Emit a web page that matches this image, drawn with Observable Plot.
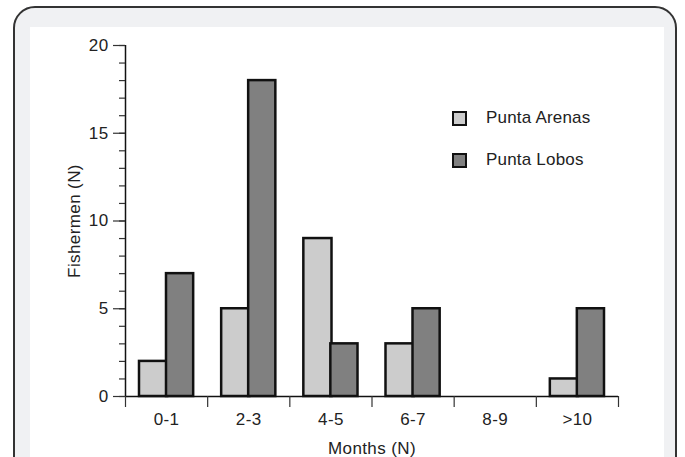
<!DOCTYPE html>
<html>
<head>
<meta charset="utf-8">
<script src="https://cdn.jsdelivr.net/npm/d3@7"></script>
<script src="https://cdn.jsdelivr.net/npm/@observablehq/plot@0.6"></script>
<style>
  html, body { margin: 0; padding: 0; background: #fff; width: 685px; height: 457px; overflow: hidden; font-family: "Liberation Sans", Arial, sans-serif; }
  #frame { position: absolute; left: 13px; top: 6px; width: 660px; height: 480px; border: 2px solid #333; border-radius: 22px; background: #f0f1f3; }
  #panel { position: absolute; left: 30px; top: 27px; width: 634px; height: 430px; background: #fff; }
  #chart { position: absolute; left: 0; top: 0; }
  .legend { position: absolute; font-size: 17px; color: #222; display: flex; align-items: center; letter-spacing: 0.2px; }
  .legend .sw { width: 11px; height: 11px; border: 2px solid #111; margin-right: 19px; }
</style>
</head>
<body>
<div id="frame"></div>
<div id="panel">
  <div id="chart"></div>
</div>
<script>
const categories = ["0-1", "2-3", "4-5", "6-7", "8-9", ">10"];
const series = ["Punta Arenas", "Punta Lobos"];
const puntaArenas = [2, 5, 9, 3, 0, 1];
const puntaLobos = [7, 18, 3, 5, 0, 5];
const yTicks = [0, 5, 10, 15, 20];
const colors = ["#cccccc", "#808080"];

const rows = (vals) => vals.map((v, i) => ({i, cat: categories[i], value: v})).filter(d => d.value > 0);

const chart = Plot.plot({
  width: 634,
  height: 430,
  marginLeft: 95,
  marginRight: 46,
  marginTop: 18,
  marginBottom: 61,
  style: {fontFamily: "'Liberation Sans', Arial, sans-serif", fontSize: "17px", color: "#222", background: "transparent"},
  x: {type: "linear", domain: [0, categories.length]},
  y: {domain: [0, 20]},
  marks: [
    Plot.rectY(rows(puntaArenas), {x1: d => d.i, x2: d => d.i + 1, y: "value", fill: colors[0], stroke: "#111", strokeWidth: 2.5, insetLeft: 14, insetRight: 40}),
    Plot.rectY(rows(puntaLobos), {x1: d => d.i, x2: d => d.i + 1, y: "value", fill: colors[1], stroke: "#111", strokeWidth: 2.5, insetLeft: 41, insetRight: 14}),
    Plot.ruleX([0], {stroke: "#111", strokeWidth: 1.5}),
    Plot.ruleY([0], {stroke: "#111", strokeWidth: 1.5}),
    Plot.axisY({ticks: d3.range(0, 21), tickSize: 6, tickFormat: () => "", label: null, stroke: "#333", strokeWidth: 1.2}),
    Plot.axisY({ticks: yTicks, tickSize: 12, tickPadding: 5, fontSize: 17, label: "Fishermen (N)", labelAnchor: "center", labelOffset: 58, labelArrow: "none", stroke: "#333", strokeWidth: 1.2, fill: "#222"}),
    Plot.axisX({ticks: d3.range(0, categories.length + 1), tickSize: 11, tickFormat: () => "", label: null, stroke: "#333", strokeWidth: 1.2}),
    Plot.axisX({ticks: categories.map((c, i) => i + 0.5), tickFormat: d => categories[Math.floor(d)], tickSize: 0, tickPadding: 16, fontSize: 17, label: "Months (N)", labelAnchor: "center", labelOffset: 57, labelArrow: "none", fill: "#222"})
  ]
});
chart.style.letterSpacing = "0.4px";
document.getElementById("chart").appendChild(chart);

const panel = document.getElementById("panel");
const legendY = [81, 123];
series.forEach((s, k) => {
  const el = document.createElement("div");
  el.className = "legend";
  el.style.left = "422px";
  el.style.top = legendY[k] + "px";
  el.innerHTML = `<div class="sw" style="background:${colors[k]}"></div><span>${s}</span>`;
  panel.appendChild(el);
});
</script>
</body>
</html>
